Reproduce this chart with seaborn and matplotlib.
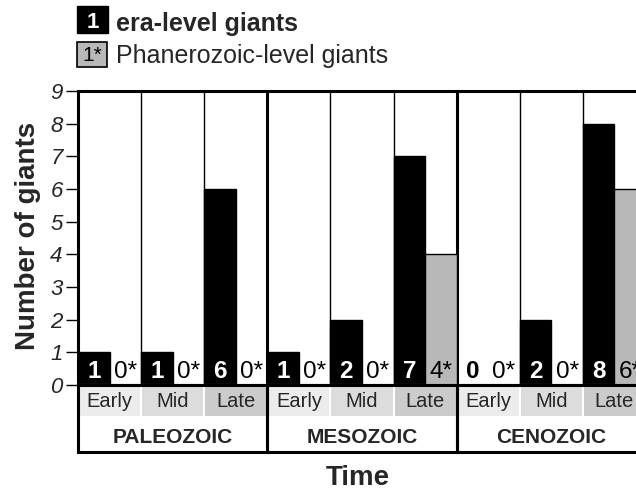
import matplotlib
matplotlib.use('Agg')
import matplotlib.pyplot as plt
from matplotlib.patches import Rectangle
import pandas as pd
import seaborn as sns

eras = ['PALEOZOIC', 'MESOZOIC', 'CENOZOIC']
periods = ['Early', 'Mid', 'Late']
era_level = [1, 1, 6, 1, 2, 7, 0, 2, 8]
phan_level = [0, 0, 0, 0, 0, 4, 0, 0, 6]
series_names = ['era-level giants', 'Phanerozoic-level giants']
period_shades = ['#ececec', '#dcdcdc', '#cbcbcb']

W, H = 636, 491


def fx(x):
    return x / W


def fy(y):
    return 1 - y / H


def main() -> None:
    sns.set_style('white')
    plt.rcParams['font.family'] = ['Liberation Sans', 'DejaVu Sans']

    slots = [f'{e} {p}' for e in eras for p in periods]
    df = pd.DataFrame({
        'slot': slots * 2,
        'level': [series_names[0]] * len(slots) + [series_names[1]] * len(slots),
        'count': era_level + phan_level,
    })

    fig = plt.figure(figsize=(W / 100, H / 100), dpi=100)
    # main axes runs past the right edge, like the cropped original
    ax = fig.add_axes([fx(78), fy(385), 568 / W, 294 / H])
    sns.barplot(data=df, x='slot', y='count', hue='level', order=slots,
                hue_order=series_names, palette=['black', '#b8b8b8'],
                width=1.0, dodge=True, edgecolor='black', linewidth=1,
                saturation=1, legend=False, ax=ax, zorder=2)

    n = len(slots)
    ax.set_xlim(-0.5, n - 0.5)
    ax.set_ylim(0, 9)
    ax.set_yticks(range(10))
    ax.set_yticklabels([str(v) for v in range(10)], fontsize=16, style='italic')
    ax.tick_params(axis='y', left=True, length=9, width=1, pad=2, color='black')
    ax.set_xticks([])
    ax.set_xlabel('')
    ax.set_ylabel('')
    for side in ['left', 'top']:
        ax.spines[side].set_linewidth(2.2)
        ax.spines[side].set_color('black')
    ax.spines['bottom'].set_linewidth(1.5)
    ax.spines['bottom'].set_color('black')
    ax.spines['right'].set_visible(False)

    for b in range(1, n):
        thick = b % len(periods) == 0
        ax.axvline(b - 0.5, color='black', lw=2.2 if thick else 1, zorder=1)

    # value labels at the foot of each bar pair
    for i in range(n):
        v = era_level[i]
        ax.text(i - 0.25, 0.2, str(v), ha='center', va='baseline', fontsize=17.5,
                fontweight='bold', color='white' if v > 0 else 'black', zorder=5)
        ax.text(i + 0.25, 0.2, f'{phan_level[i]}*', ha='center', va='baseline',
                fontsize=17.5, color='black', zorder=5)

    # period / era table under the axis
    tab = fig.add_axes([fx(78), fy(452), 568 / W, 67 / H])
    tab.set_xlim(-0.5, n - 0.5)
    tab.set_ylim(0, 67)
    tab.axis('off')
    for i in range(n):
        k = i % len(periods)
        tab.add_patch(Rectangle((i - 0.5, 35), 1, 32, facecolor=period_shades[k],
                                edgecolor='white', lw=1.5, clip_on=False))
        tab.text(i, 45, periods[k], ha='center', va='baseline', fontsize=14.5,
                 clip_on=False)
    for e, name in enumerate(eras):
        x0 = e * len(periods) - 0.5
        tab.add_patch(Rectangle((x0, 0), len(periods), 67, facecolor='none',
                                edgecolor='black', lw=2.2, clip_on=False))
        tab.text(x0 + len(periods) / 2, 9, name, ha='center', va='baseline',
                 fontsize=15, fontweight='bold', clip_on=False)

    fig.text(fx(28), fy(236), 'Number of giants', rotation=90, ha='center',
             va='center', fontsize=20, fontweight='bold')
    fig.text(fx(358), fy(478), 'Time', ha='center', va='center', fontsize=20,
             fontweight='bold')

    # hand-made legend
    fig.add_artist(Rectangle((fx(77), fy(33)), 31 / W, 27 / H, facecolor='black',
                             edgecolor='black', transform=fig.transFigure))
    fig.text(fx(92.5), fy(28), '1', ha='center', va='baseline', fontsize=16,
             fontweight='bold', color='white')
    fig.text(fx(116), fy(31), series_names[0], ha='left', va='baseline',
             fontsize=18, fontweight='bold')
    fig.add_artist(Rectangle((fx(77), fy(67)), 30 / W, 25 / H, facecolor='#b8b8b8',
                             edgecolor='black', lw=1.2, transform=fig.transFigure))
    fig.text(fx(92), fy(61), '1*', ha='center', va='baseline', fontsize=15,
             color='black')
    fig.text(fx(116), fy(63), series_names[1], ha='left', va='baseline',
             fontsize=18)

    plt.savefig('out.png', dpi=100)


if __name__ == '__main__':
    main()
